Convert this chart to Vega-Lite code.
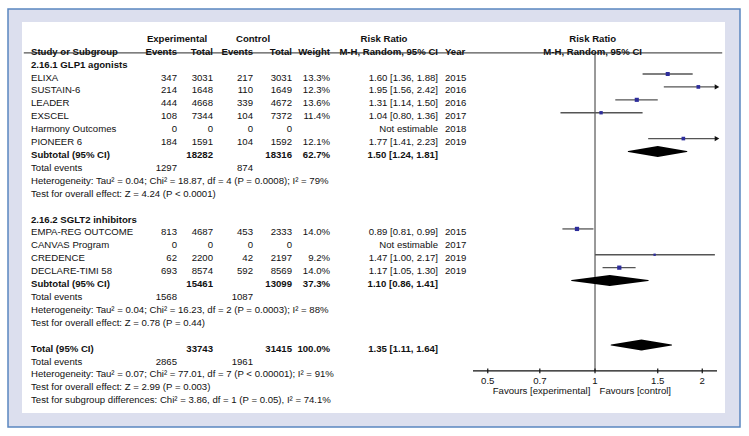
{
  "$schema": "https://vega.github.io/schema/vega-lite/v6.json",
  "width": 749,
  "height": 436,
  "padding": 0,
  "autosize": "none",
  "background": "white",
  "config": {
    "view": {"stroke": null},
    "text": {"font": "Liberation Sans", "fontSize": 9.6, "baseline": "middle", "dy": 3.5, "color": "#111"}
  },
  "datasets": {
    "rows": [
      {"r": 0, "kind": "group", "name": "2.16.1 GLP1 agonists"},
      {"r": 1, "kind": "study", "name": "ELIXA", "ee": 347, "et": 3031, "ce": 217, "ct": 3031, "w": 0.133, "ci": "1.60 [1.36, 1.88]", "year": "2015", "rr": 1.60, "lo": 1.36, "hi": 1.88},
      {"r": 2, "kind": "study", "name": "SUSTAIN-6", "ee": 214, "et": 1648, "ce": 110, "ct": 1649, "w": 0.123, "ci": "1.95 [1.56, 2.42]", "year": "2016", "rr": 1.95, "lo": 1.56, "hi": 2.42},
      {"r": 3, "kind": "study", "name": "LEADER", "ee": 444, "et": 4668, "ce": 339, "ct": 4672, "w": 0.136, "ci": "1.31 [1.14, 1.50]", "year": "2016", "rr": 1.31, "lo": 1.14, "hi": 1.50},
      {"r": 4, "kind": "study", "name": "EXSCEL", "ee": 108, "et": 7344, "ce": 104, "ct": 7372, "w": 0.114, "ci": "1.04 [0.80, 1.36]", "year": "2017", "rr": 1.04, "lo": 0.80, "hi": 1.36},
      {"r": 5, "kind": "study", "name": "Harmony Outcomes", "ee": 0, "et": 0, "ce": 0, "ct": 0, "ci": "Not estimable", "year": "2018"},
      {"r": 6, "kind": "study", "name": "PIONEER 6", "ee": 184, "et": 1591, "ce": 104, "ct": 1592, "w": 0.121, "ci": "1.77 [1.41, 2.23]", "year": "2019", "rr": 1.77, "lo": 1.41, "hi": 2.23},
      {"r": 7, "kind": "sub", "name": "Subtotal (95% CI)", "et": 18282, "ct": 18316, "w": 0.627, "ci": "1.50 [1.24, 1.81]", "rr": 1.50, "lo": 1.24, "hi": 1.81},
      {"r": 8, "kind": "events", "name": "Total events", "ee": 1297, "ce": 874},
      {"r": 9, "kind": "note", "name": "Heterogeneity: Tau² = 0.04; Chi² = 18.87, df = 4 (P = 0.0008); I² = 79%"},
      {"r": 10, "kind": "note", "name": "Test for overall effect: Z = 4.24 (P < 0.0001)"},
      {"r": 12, "kind": "group", "name": "2.16.2 SGLT2 inhibitors"},
      {"r": 13, "kind": "study", "name": "EMPA-REG OUTCOME", "ee": 813, "et": 4687, "ce": 453, "ct": 2333, "w": 0.140, "ci": "0.89 [0.81, 0.99]", "year": "2015", "rr": 0.89, "lo": 0.81, "hi": 0.99},
      {"r": 14, "kind": "study", "name": "CANVAS Program", "ee": 0, "et": 0, "ce": 0, "ct": 0, "ci": "Not estimable", "year": "2017"},
      {"r": 15, "kind": "study", "name": "CREDENCE", "ee": 62, "et": 2200, "ce": 42, "ct": 2197, "w": 0.092, "ci": "1.47 [1.00, 2.17]", "year": "2019", "rr": 1.47, "lo": 1.00, "hi": 2.17},
      {"r": 16, "kind": "study", "name": "DECLARE-TIMI 58", "ee": 693, "et": 8574, "ce": 592, "ct": 8569, "w": 0.140, "ci": "1.17 [1.05, 1.30]", "year": "2019", "rr": 1.17, "lo": 1.05, "hi": 1.30},
      {"r": 17, "kind": "sub", "name": "Subtotal (95% CI)", "et": 15461, "ct": 13099, "w": 0.373, "ci": "1.10 [0.86, 1.41]", "rr": 1.10, "lo": 0.86, "hi": 1.41},
      {"r": 18, "kind": "events", "name": "Total events", "ee": 1568, "ce": 1087},
      {"r": 19, "kind": "note", "name": "Heterogeneity: Tau² = 0.04; Chi² = 16.23, df = 2 (P = 0.0003); I² = 88%"},
      {"r": 20, "kind": "note", "name": "Test for overall effect: Z = 0.78 (P = 0.44)"},
      {"r": 22, "kind": "total", "name": "Total (95% CI)", "et": 33743, "ct": 31415, "w": 1.0, "ci": "1.35 [1.11, 1.64]", "rr": 1.35, "lo": 1.11, "hi": 1.64},
      {"r": 23, "kind": "events", "name": "Total events", "ee": 2865, "ce": 1961},
      {"r": 24, "kind": "note", "name": "Heterogeneity: Tau² = 0.07; Chi² = 77.01, df = 7 (P < 0.00001); I² = 91%"},
      {"r": 25, "kind": "note", "name": "Test for overall effect: Z = 2.99 (P = 0.003)"},
      {"r": 26, "kind": "note", "name": "Test for subgroup differences: Chi² = 3.86, df = 1 (P = 0.05), I² = 74.1%"}
    ],
    "heads": [
      {"t": "Experimental", "c": 1, "r": -2},
      {"t": "Control", "c": 3, "r": -2},
      {"t": "Risk Ratio", "c": 5.5, "r": -2},
      {"t": "Study or Subgroup", "c": 0, "r": -1},
      {"t": "Events", "c": 1, "r": -1},
      {"t": "Total", "c": 2, "r": -1},
      {"t": "Events", "c": 3, "r": -1},
      {"t": "Total", "c": 4, "r": -1},
      {"t": "Weight", "c": 5, "r": -1},
      {"t": "M-H, Random, 95% CI", "c": 6, "r": -1},
      {"t": "Year", "c": 7, "r": -1}
    ],
    "pheads": [
      {"t": "Risk Ratio", "r": -2},
      {"t": "M-H, Random, 95% CI", "r": -1}
    ],
    "ticks": [
      {"v": 0.5, "lab": "0.5"},
      {"v": 0.7, "lab": "0.7"},
      {"v": 1, "lab": "1"},
      {"v": 1.5, "lab": "1.5"},
      {"v": 2, "lab": "2"}
    ]
  },
  "layer": [
    {
      "layer": [
        {
          "data": {"values": [{}]},
          "mark": {"type": "rect", "fill": "#dcdfee", "stroke": "#5a86c0", "strokeWidth": 1.5},
          "encoding": {
            "x": {"datum": -2, "type": "quantitative", "scale": {"type": "linear", "domain": [-2, -1, 0, 1, 2, 3, 4, 5, 6, 7, 8, 9], "range": [8, 22, 31, 177, 213, 253, 292, 330, 438, 445, 725, 740], "nice": false, "zero": false}, "axis": null},
            "x2": {"datum": 9},
            "y": {"datum": -4.036, "type": "quantitative", "scale": {"domain": [-4.733, 29.04], "reverse": true, "nice": false, "zero": false}, "axis": null},
            "y2": {"datum": 28.34}
          }
        },
        {
          "data": {"values": [{}]},
          "mark": {"type": "rect", "fill": "white"},
          "encoding": {
            "x": {"datum": -1, "type": "quantitative", "scale": {"type": "linear", "domain": [-2, -1, 0, 1, 2, 3, 4, 5, 6, 7, 8, 9], "range": [8, 22, 31, 177, 213, 253, 292, 330, 438, 445, 725, 740], "nice": false, "zero": false}, "axis": null},
            "x2": {"datum": 8},
            "y": {"datum": -3.03, "type": "quantitative", "scale": {"domain": [-4.733, 29.04], "reverse": true, "nice": false, "zero": false}, "axis": null},
            "y2": {"datum": 27.26}
          }
        },
        {
          "data": {"values": [{}]},
          "mark": {"type": "rule", "color": "#555", "strokeWidth": 1.3},
          "encoding": {
            "x": {"datum": -0.8, "type": "quantitative", "scale": {"type": "linear", "domain": [-2, -1, 0, 1, 2, 3, 4, 5, 6, 7, 8, 9], "range": [8, 22, 31, 177, 213, 253, 292, 330, 438, 445, 725, 740], "nice": false, "zero": false}, "axis": null},
            "x2": {"datum": 7.99},
            "y": {"datum": -0.63, "type": "quantitative", "scale": {"domain": [-4.733, 29.04], "reverse": true, "nice": false, "zero": false}, "axis": null}
          }
        },
        {
          "data": {"name": "heads"},
          "transform": [{"filter": "datum.r == -2"}],
          "mark": {"type": "text", "align": "center", "fontWeight": "bold"},
          "encoding": {
            "x": {"field": "c", "type": "quantitative", "scale": {"type": "linear", "domain": [-2, -1, 0, 1, 2, 3, 4, 5, 6, 7, 8, 9], "range": [8, 22, 31, 177, 213, 253, 292, 330, 438, 445, 725, 740], "nice": false, "zero": false}, "axis": null},
            "y": {"field": "r", "type": "quantitative", "scale": {"domain": [-4.733, 29.04], "reverse": true, "nice": false, "zero": false}, "axis": null},
            "text": {"field": "t"}
          }
        },
        {
          "data": {"name": "heads"},
          "transform": [{"filter": "datum.r == -1 && (datum.c == 0 || datum.c == 7)"}],
          "mark": {"type": "text", "align": "left", "fontWeight": "bold"},
          "encoding": {
            "x": {"field": "c", "type": "quantitative", "scale": {"type": "linear", "domain": [-2, -1, 0, 1, 2, 3, 4, 5, 6, 7, 8, 9], "range": [8, 22, 31, 177, 213, 253, 292, 330, 438, 445, 725, 740], "nice": false, "zero": false}, "axis": null},
            "y": {"field": "r", "type": "quantitative", "scale": {"domain": [-4.733, 29.04], "reverse": true, "nice": false, "zero": false}, "axis": null},
            "text": {"field": "t"}
          }
        },
        {
          "data": {"name": "heads"},
          "transform": [{"filter": "datum.r == -1 && datum.c >= 1 && datum.c <= 6"}],
          "mark": {"type": "text", "align": "right", "fontWeight": "bold"},
          "encoding": {
            "x": {"field": "c", "type": "quantitative", "scale": {"type": "linear", "domain": [-2, -1, 0, 1, 2, 3, 4, 5, 6, 7, 8, 9], "range": [8, 22, 31, 177, 213, 253, 292, 330, 438, 445, 725, 740], "nice": false, "zero": false}, "axis": null},
            "y": {"field": "r", "type": "quantitative", "scale": {"domain": [-4.733, 29.04], "reverse": true, "nice": false, "zero": false}, "axis": null},
            "text": {"field": "t"}
          }
        },
        {
          "data": {"name": "rows"},
          "mark": {"type": "text", "align": "left", "fontWeight": {"expr": "(datum.kind == 'group' || datum.kind == 'sub' || datum.kind == 'total') ? 'bold' : 'normal'"}},
          "encoding": {
            "x": {"datum": 0, "type": "quantitative", "scale": {"type": "linear", "domain": [-2, -1, 0, 1, 2, 3, 4, 5, 6, 7, 8, 9], "range": [8, 22, 31, 177, 213, 253, 292, 330, 438, 445, 725, 740], "nice": false, "zero": false}, "axis": null},
            "y": {"field": "r", "type": "quantitative", "scale": {"domain": [-4.733, 29.04], "reverse": true, "nice": false, "zero": false}, "axis": null},
            "text": {"field": "name"}
          }
        },
        {
          "data": {"name": "rows"},
          "transform": [{"filter": "isValid(datum.ee)"}],
          "mark": {"type": "text", "align": "right", "fontWeight": {"expr": "(datum.kind == 'sub' || datum.kind == 'total') ? 'bold' : 'normal'"}},
          "encoding": {
            "x": {"datum": 1, "type": "quantitative", "scale": {"type": "linear", "domain": [-2, -1, 0, 1, 2, 3, 4, 5, 6, 7, 8, 9], "range": [8, 22, 31, 177, 213, 253, 292, 330, 438, 445, 725, 740], "nice": false, "zero": false}, "axis": null},
            "y": {"field": "r", "type": "quantitative", "scale": {"domain": [-4.733, 29.04], "reverse": true, "nice": false, "zero": false}, "axis": null},
            "text": {"field": "ee", "type": "quantitative", "format": "d"}
          }
        },
        {
          "data": {"name": "rows"},
          "transform": [{"filter": "isValid(datum.et)"}],
          "mark": {"type": "text", "align": "right", "fontWeight": {"expr": "(datum.kind == 'sub' || datum.kind == 'total') ? 'bold' : 'normal'"}},
          "encoding": {
            "x": {"datum": 2, "type": "quantitative", "scale": {"type": "linear", "domain": [-2, -1, 0, 1, 2, 3, 4, 5, 6, 7, 8, 9], "range": [8, 22, 31, 177, 213, 253, 292, 330, 438, 445, 725, 740], "nice": false, "zero": false}, "axis": null},
            "y": {"field": "r", "type": "quantitative", "scale": {"domain": [-4.733, 29.04], "reverse": true, "nice": false, "zero": false}, "axis": null},
            "text": {"field": "et", "type": "quantitative", "format": "d"}
          }
        },
        {
          "data": {"name": "rows"},
          "transform": [{"filter": "isValid(datum.ce)"}],
          "mark": {"type": "text", "align": "right", "fontWeight": {"expr": "(datum.kind == 'sub' || datum.kind == 'total') ? 'bold' : 'normal'"}},
          "encoding": {
            "x": {"datum": 3, "type": "quantitative", "scale": {"type": "linear", "domain": [-2, -1, 0, 1, 2, 3, 4, 5, 6, 7, 8, 9], "range": [8, 22, 31, 177, 213, 253, 292, 330, 438, 445, 725, 740], "nice": false, "zero": false}, "axis": null},
            "y": {"field": "r", "type": "quantitative", "scale": {"domain": [-4.733, 29.04], "reverse": true, "nice": false, "zero": false}, "axis": null},
            "text": {"field": "ce", "type": "quantitative", "format": "d"}
          }
        },
        {
          "data": {"name": "rows"},
          "transform": [{"filter": "isValid(datum.ct)"}],
          "mark": {"type": "text", "align": "right", "fontWeight": {"expr": "(datum.kind == 'sub' || datum.kind == 'total') ? 'bold' : 'normal'"}},
          "encoding": {
            "x": {"datum": 4, "type": "quantitative", "scale": {"type": "linear", "domain": [-2, -1, 0, 1, 2, 3, 4, 5, 6, 7, 8, 9], "range": [8, 22, 31, 177, 213, 253, 292, 330, 438, 445, 725, 740], "nice": false, "zero": false}, "axis": null},
            "y": {"field": "r", "type": "quantitative", "scale": {"domain": [-4.733, 29.04], "reverse": true, "nice": false, "zero": false}, "axis": null},
            "text": {"field": "ct", "type": "quantitative", "format": "d"}
          }
        },
        {
          "data": {"name": "rows"},
          "transform": [{"filter": "isValid(datum.w)"}],
          "mark": {"type": "text", "align": "right", "fontWeight": {"expr": "(datum.kind == 'sub' || datum.kind == 'total') ? 'bold' : 'normal'"}},
          "encoding": {
            "x": {"datum": 5, "type": "quantitative", "scale": {"type": "linear", "domain": [-2, -1, 0, 1, 2, 3, 4, 5, 6, 7, 8, 9], "range": [8, 22, 31, 177, 213, 253, 292, 330, 438, 445, 725, 740], "nice": false, "zero": false}, "axis": null},
            "y": {"field": "r", "type": "quantitative", "scale": {"domain": [-4.733, 29.04], "reverse": true, "nice": false, "zero": false}, "axis": null},
            "text": {"field": "w", "type": "quantitative", "format": ".1%"}
          }
        },
        {
          "data": {"name": "rows"},
          "transform": [{"filter": "isValid(datum.ci)"}],
          "mark": {"type": "text", "align": "right", "fontWeight": {"expr": "(datum.kind == 'sub' || datum.kind == 'total') ? 'bold' : 'normal'"}},
          "encoding": {
            "x": {"datum": 6, "type": "quantitative", "scale": {"type": "linear", "domain": [-2, -1, 0, 1, 2, 3, 4, 5, 6, 7, 8, 9], "range": [8, 22, 31, 177, 213, 253, 292, 330, 438, 445, 725, 740], "nice": false, "zero": false}, "axis": null},
            "y": {"field": "r", "type": "quantitative", "scale": {"domain": [-4.733, 29.04], "reverse": true, "nice": false, "zero": false}, "axis": null},
            "text": {"field": "ci", "type": "nominal"}
          }
        },
        {
          "data": {"name": "rows"},
          "transform": [{"filter": "isValid(datum.year)"}],
          "mark": {"type": "text", "align": "left"},
          "encoding": {
            "x": {"datum": 7, "type": "quantitative", "scale": {"type": "linear", "domain": [-2, -1, 0, 1, 2, 3, 4, 5, 6, 7, 8, 9], "range": [8, 22, 31, 177, 213, 253, 292, 330, 438, 445, 725, 740], "nice": false, "zero": false}, "axis": null},
            "y": {"field": "r", "type": "quantitative", "scale": {"domain": [-4.733, 29.04], "reverse": true, "nice": false, "zero": false}, "axis": null},
            "text": {"field": "year", "type": "nominal"}
          }
        }
      ]
    },
    {
      "layer": [
        {
          "data": {"values": [{}]},
          "mark": {"type": "rule", "color": "#555", "strokeWidth": 1.2},
          "encoding": {
            "x": {"datum": 1, "type": "quantitative", "scale": {"type": "log", "domain": [0.4545, 2.2], "range": [473, 717], "clamp": true}, "axis": null},
            "y": {"datum": -0.63, "type": "quantitative", "scale": {"domain": [-4.733, 29.04], "reverse": true, "nice": false, "zero": false}, "axis": null},
            "y2": {"datum": 24}
          }
        },
        {
          "data": {"name": "rows"},
          "transform": [{"filter": "datum.kind == 'study' && isValid(datum.lo)"}],
          "mark": {"type": "rule", "color": "#555", "strokeWidth": 1.3},
          "encoding": {
            "x": {"field": "lo", "type": "quantitative", "scale": {"type": "log", "domain": [0.4545, 2.2], "range": [473, 717], "clamp": true}, "axis": null},
            "x2": {"field": "hi"},
            "y": {"field": "r", "type": "quantitative", "scale": {"domain": [-4.733, 29.04], "reverse": true, "nice": false, "zero": false}, "axis": null}
          }
        },
        {
          "data": {"name": "rows"},
          "transform": [{"filter": "datum.kind == 'study' && datum.hi > 2.2"}],
          "mark": {"type": "point", "shape": "triangle-right", "filled": true, "color": "#111", "opacity": 1, "size": 28},
          "encoding": {
            "x": {"field": "hi", "type": "quantitative", "scale": {"type": "log", "domain": [0.4545, 2.2], "range": [473, 717], "clamp": true}, "axis": null},
            "y": {"field": "r", "type": "quantitative", "scale": {"domain": [-4.733, 29.04], "reverse": true, "nice": false, "zero": false}, "axis": null}
          }
        },
        {
          "data": {"name": "rows"},
          "transform": [{"filter": "datum.kind == 'study' && isValid(datum.rr)"}],
          "mark": {"type": "point", "shape": "square", "filled": true, "color": "#2d2d9b", "opacity": 1},
          "encoding": {
            "x": {"field": "rr", "type": "quantitative", "scale": {"type": "log", "domain": [0.4545, 2.2], "range": [473, 717], "clamp": true}, "axis": null},
            "y": {"field": "r", "type": "quantitative", "scale": {"domain": [-4.733, 29.04], "reverse": true, "nice": false, "zero": false}, "axis": null},
            "size": {"field": "w", "type": "quantitative", "scale": {"domain": [0.09, 0.14], "range": [5, 18]}, "legend": null}
          }
        },
        {
          "data": {"name": "rows"},
          "transform": [
            {"filter": "datum.kind == 'sub' || datum.kind == 'total'"},
            {"fold": ["lo", "rr", "hi"], "as": ["k", "v"]}
          ],
          "mark": {"type": "trail", "color": "black"},
          "encoding": {
            "x": {"field": "v", "type": "quantitative", "scale": {"type": "log", "domain": [0.4545, 2.2], "range": [473, 717], "clamp": true}, "axis": null},
            "y": {"field": "r", "type": "quantitative", "scale": {"domain": [-4.733, 29.04], "reverse": true, "nice": false, "zero": false}, "axis": null},
            "detail": {"field": "r", "type": "nominal"},
            "order": {"field": "v", "type": "quantitative"},
            "size": {"condition": {"test": "datum.k == 'rr'", "value": 11}, "value": 0}
          }
        },
        {
          "data": {"values": [{}]},
          "mark": {"type": "rule", "color": "#111", "strokeWidth": 1.2},
          "encoding": {
            "x": {"datum": 0.4545, "type": "quantitative", "scale": {"type": "log", "domain": [0.4545, 2.2], "range": [473, 717], "clamp": true}, "axis": null},
            "x2": {"datum": 2.2},
            "y": {"datum": 24, "type": "quantitative", "scale": {"domain": [-4.733, 29.04], "reverse": true, "nice": false, "zero": false}, "axis": null}
          }
        },
        {
          "data": {"name": "ticks"},
          "mark": {"type": "rule", "color": "#111", "strokeWidth": 1.2},
          "encoding": {
            "x": {"field": "v", "type": "quantitative", "scale": {"type": "log", "domain": [0.4545, 2.2], "range": [473, 717], "clamp": true}, "axis": null},
            "y": {"datum": 23.82, "type": "quantitative", "scale": {"domain": [-4.733, 29.04], "reverse": true, "nice": false, "zero": false}, "axis": null},
            "y2": {"datum": 24.17}
          }
        },
        {
          "data": {"name": "ticks"},
          "mark": {"type": "text", "align": "center"},
          "encoding": {
            "x": {"field": "v", "type": "quantitative", "scale": {"type": "log", "domain": [0.4545, 2.2], "range": [473, 717], "clamp": true}, "axis": null},
            "y": {"datum": 24.47, "type": "quantitative", "scale": {"domain": [-4.733, 29.04], "reverse": true, "nice": false, "zero": false}, "axis": null},
            "text": {"field": "lab", "type": "nominal"}
          }
        },
        {
          "data": {"values": [{}]},
          "mark": {"type": "text", "align": "right"},
          "encoding": {
            "x": {"datum": 0.97, "type": "quantitative", "scale": {"type": "log", "domain": [0.4545, 2.2], "range": [473, 717], "clamp": true}, "axis": null},
            "y": {"datum": 25.3, "type": "quantitative", "scale": {"domain": [-4.733, 29.04], "reverse": true, "nice": false, "zero": false}, "axis": null},
            "text": {"value": "Favours [experimental]"}
          }
        },
        {
          "data": {"values": [{}]},
          "mark": {"type": "text", "align": "left"},
          "encoding": {
            "x": {"datum": 1.03, "type": "quantitative", "scale": {"type": "log", "domain": [0.4545, 2.2], "range": [473, 717], "clamp": true}, "axis": null},
            "y": {"datum": 25.3, "type": "quantitative", "scale": {"domain": [-4.733, 29.04], "reverse": true, "nice": false, "zero": false}, "axis": null},
            "text": {"value": "Favours [control]"}
          }
        },
        {
          "data": {"name": "pheads"},
          "mark": {"type": "text", "align": "center", "fontWeight": "bold"},
          "encoding": {
            "x": {"datum": 0.985, "type": "quantitative", "scale": {"type": "log", "domain": [0.4545, 2.2], "range": [473, 717], "clamp": true}, "axis": null},
            "y": {"field": "r", "type": "quantitative", "scale": {"domain": [-4.733, 29.04], "reverse": true, "nice": false, "zero": false}, "axis": null},
            "text": {"field": "t"}
          }
        }
      ]
    }
  ],
  "resolve": {"scale": {"x": "independent"}}
}
